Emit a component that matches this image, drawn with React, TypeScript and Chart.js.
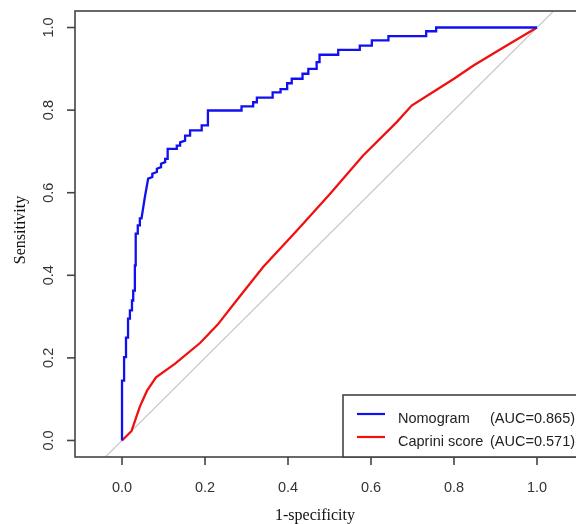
import { useEffect, useRef } from "react";
import { Chart, registerables } from "chart.js";

Chart.register(...registerables);

// ---- Data ----
const nomogramFpr = [
  0, 0, 0.005, 0.005, 0.0096, 0.0096, 0.0145, 0.0145, 0.019, 0.019, 0.024, 0.024,
  0.027, 0.027, 0.031, 0.031, 0.033, 0.033, 0.038, 0.038, 0.043, 0.043, 0.047,
  0.055, 0.063, 0.073, 0.073, 0.084, 0.084, 0.094, 0.094, 0.104, 0.104, 0.11, 0.11,
  0.132, 0.132, 0.14, 0.14, 0.152, 0.152, 0.164, 0.164, 0.192, 0.192, 0.207, 0.207,
  0.288, 0.288, 0.316, 0.316, 0.325, 0.325, 0.363, 0.363, 0.382, 0.382, 0.398, 0.398,
  0.409, 0.409, 0.435, 0.435, 0.449, 0.449, 0.469, 0.469, 0.476, 0.476, 0.521, 0.521,
  0.573, 0.573, 0.602, 0.602, 0.642, 0.642, 0.733, 0.733, 0.757, 0.757, 1.0,
];
const nomogramTpr = [
  0, 0.145, 0.145, 0.202, 0.202, 0.249, 0.249, 0.295, 0.295, 0.315, 0.315, 0.339,
  0.339, 0.363, 0.363, 0.424, 0.424, 0.501, 0.501, 0.521, 0.521, 0.538, 0.538,
  0.589, 0.634, 0.638, 0.646, 0.65, 0.658, 0.662, 0.67, 0.674, 0.682, 0.682, 0.706,
  0.706, 0.714, 0.714, 0.722, 0.726, 0.738, 0.738, 0.751, 0.751, 0.763, 0.763, 0.799,
  0.799, 0.809, 0.809, 0.819, 0.819, 0.83, 0.83, 0.843, 0.843, 0.851, 0.851, 0.865,
  0.865, 0.876, 0.876, 0.888, 0.888, 0.9, 0.9, 0.916, 0.916, 0.934, 0.934, 0.946,
  0.946, 0.956, 0.956, 0.969, 0.969, 0.979, 0.979, 0.991, 0.991, 1.0, 1.0,
];
const capriniFpr = [
  0, 0.023, 0.043, 0.06, 0.082, 0.128, 0.188, 0.23, 0.276, 0.34, 0.421, 0.501,
  0.581, 0.662, 0.698, 0.742, 0.8, 0.847, 0.92, 1.0,
];
const capriniTpr = [
  0, 0.023, 0.082, 0.12, 0.153, 0.186, 0.236, 0.28, 0.339, 0.42, 0.508, 0.597,
  0.69, 0.771, 0.811, 0.839, 0.876, 0.908, 0.952, 1.0,
];
const referenceLine = [-0.04, 1.04];

const xTickValues = [0, 0.2, 0.4, 0.6, 0.8, 1.0];
const xTickLabels = ["0.0", "0.2", "0.4", "0.6", "0.8", "1.0"];
const yTickValues = [0, 0.2, 0.4, 0.6, 0.8, 1.0];
const yTickLabels = ["0.0", "0.2", "0.4", "0.6", "0.8", "1.0"];

const seriesNames = ["Nomogram", "Caprini score"];
const aucLabels = ["(AUC=0.865)", "(AUC=0.571)"];
const seriesColors = ["#1010F0", "#F01010"];
const xTitle = "1-specificity";
const yTitle = "Sensitivity";

const toPoints = (xs: number[], ys: number[]) => xs.map((x, i) => ({ x, y: ys[i] }));

const framePlugin = {
  id: "rframe",
  afterDatasetsDraw(chart: any) {
    const { ctx, chartArea, scales } = chart;
    const xs = scales.x;
    const ys = scales.y;
    const { left, right, top, bottom } = chartArea;
    ctx.save();
    const axisColor = "#444";
    // box
    ctx.strokeStyle = axisColor;
    ctx.lineWidth = 1.6;
    ctx.strokeRect(left, top, right - left, bottom - top);

    // x ticks
    ctx.fillStyle = "#333";
    ctx.font = '14.5px "Liberation Sans", Arial, sans-serif';
    ctx.textAlign = "center";
    ctx.textBaseline = "alphabetic";
    xTickValues.forEach((v, i) => {
      const px = xs.getPixelForValue(v);
      ctx.beginPath();
      ctx.moveTo(px, bottom);
      ctx.lineTo(px, bottom + 8);
      ctx.stroke();
      ctx.fillText(xTickLabels[i], px, bottom + 35);
    });

    // y ticks (rotated labels like R)
    yTickValues.forEach((v, i) => {
      const py = ys.getPixelForValue(v);
      ctx.beginPath();
      ctx.moveTo(left, py);
      ctx.lineTo(left - 8, py);
      ctx.stroke();
      ctx.save();
      ctx.translate(left - 22, py);
      ctx.rotate(-Math.PI / 2);
      ctx.textAlign = "center";
      ctx.textBaseline = "alphabetic";
      ctx.fillText(yTickLabels[i], 0, 0);
      ctx.restore();
    });

    // axis titles
    ctx.fillStyle = "#111";
    ctx.font = '16px "Liberation Serif", "Times New Roman", serif';
    ctx.textAlign = "center";
    ctx.textBaseline = "alphabetic";
    ctx.fillText(xTitle, 315, bottom + 63);
    ctx.save();
    ctx.translate(25, 230);
    ctx.rotate(-Math.PI / 2);
    ctx.fillText(yTitle, 0, 0);
    ctx.restore();

    // legend box (bottom right inside plot)
    const lx = right - 241;
    const ly = bottom - 62;
    ctx.fillStyle = "#fff";
    ctx.fillRect(lx, ly, right - lx, bottom - ly);
    ctx.strokeStyle = axisColor;
    ctx.lineWidth = 1.6;
    ctx.strokeRect(lx, ly, right - lx, bottom - ly);
    ctx.font = '14.5px "Liberation Sans", Arial, sans-serif';
    ctx.textAlign = "left";
    seriesNames.forEach((name, i) => {
      const rowY = ly + 19 + i * 23;
      ctx.strokeStyle = seriesColors[i];
      ctx.lineWidth = 2.2;
      ctx.beginPath();
      ctx.moveTo(lx + 14, rowY);
      ctx.lineTo(lx + 42, rowY);
      ctx.stroke();
      ctx.fillStyle = "#222";
      ctx.fillText(name, lx + 55, rowY + 9);
      ctx.fillText(aucLabels[i], lx + 147, rowY + 9);
    });
    ctx.restore();
  },
};

export default function App() {
  const canvasRef = useRef<HTMLCanvasElement | null>(null);

  useEffect(() => {
    const canvas = canvasRef.current;
    if (!canvas) return;
    const chart = new Chart(canvas, {
      type: "scatter",
      data: {
        datasets: [
          {
            label: seriesNames[0],
            data: toPoints(nomogramFpr, nomogramTpr),
            showLine: true,
            borderColor: seriesColors[0],
            backgroundColor: seriesColors[0],
            borderWidth: 2.3,
            pointRadius: 0,
            fill: false,
          },
          {
            label: seriesNames[1],
            data: toPoints(capriniFpr, capriniTpr),
            showLine: true,
            borderColor: seriesColors[1],
            backgroundColor: seriesColors[1],
            borderWidth: 2.3,
            pointRadius: 0,
            fill: false,
          },
          {
            label: "reference",
            data: toPoints(referenceLine, referenceLine),
            showLine: true,
            borderColor: "#C8C8C8",
            borderWidth: 1.2,
            pointRadius: 0,
            fill: false,
          },
        ],
      },
      options: {
        animation: false,
        responsive: false,
        layout: { padding: { left: 75, top: 11, right: 16, bottom: 67 } },
        plugins: {
          legend: { display: false },
          tooltip: { enabled: false },
        },
        scales: {
          x: { type: "linear", min: -0.1133, max: 1.1133, display: false },
          y: { type: "linear", min: -0.04, max: 1.04, display: false },
        },
      },
      plugins: [framePlugin],
    });
    return () => chart.destroy();
  }, []);

  return (
    <div
      style={{
        position: "fixed",
        left: 0,
        top: 0,
        width: 576,
        height: 524,
        overflow: "hidden",
        background: "#fff",
      }}
    >
      <canvas ref={canvasRef} width={600} height={524} style={{ width: 600, height: 524, display: "block" }} />
    </div>
  );
}
